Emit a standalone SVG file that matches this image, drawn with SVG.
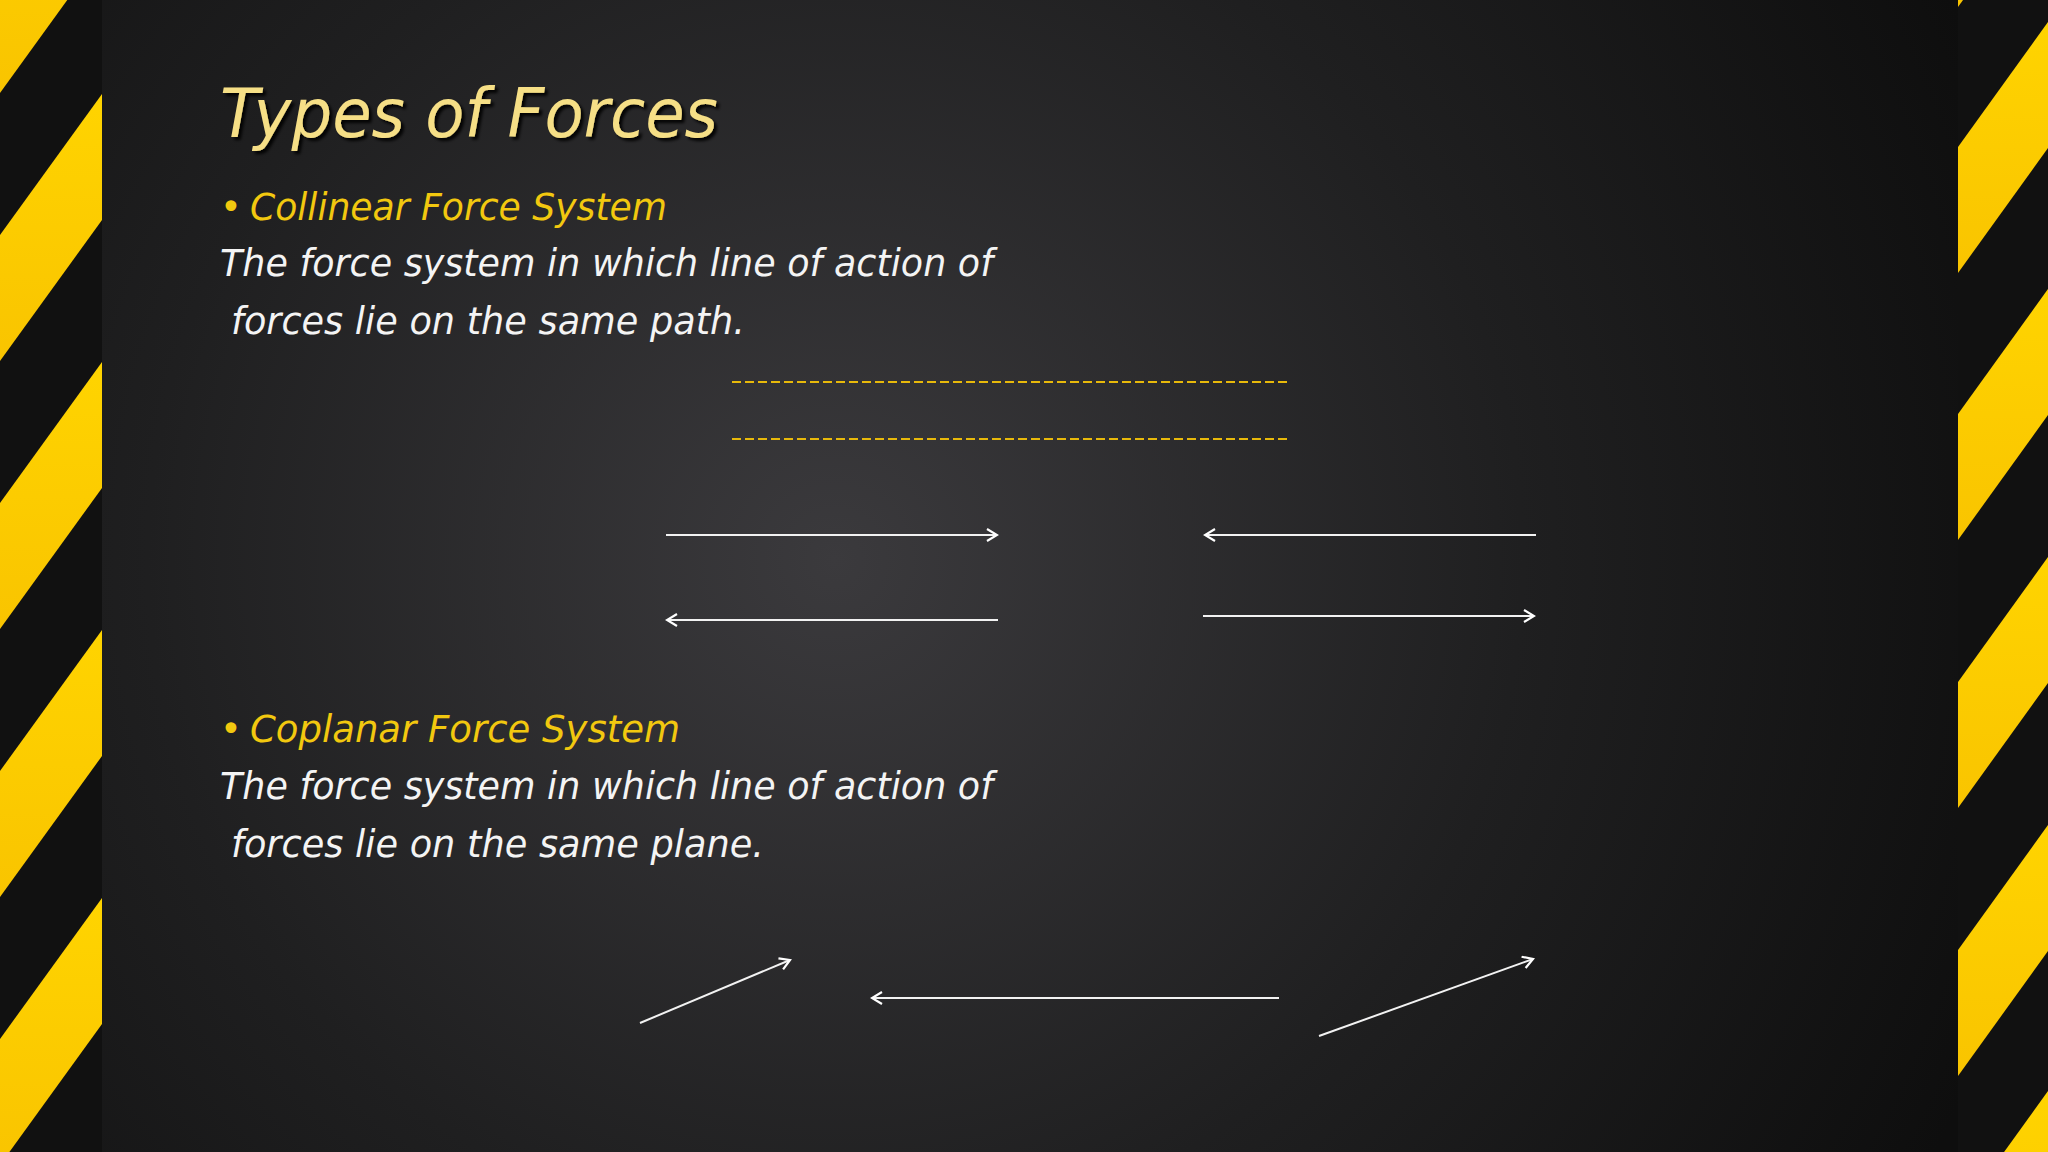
<svg xmlns="http://www.w3.org/2000/svg" width="2048" height="1152" viewBox="0 0 2048 1152">
<defs>
<radialGradient id="bg" cx="835" cy="560" r="1250" gradientUnits="userSpaceOnUse">
<stop offset="0" stop-color="#3b3a3d"/><stop offset="0.55" stop-color="#1f1f20"/><stop offset="1" stop-color="#0e0e0e"/>
</radialGradient>
<linearGradient id="yel" x1="0" y1="0" x2="0" y2="1"><stop offset="0" stop-color="#ffd400"/><stop offset="1" stop-color="#f9c400"/></linearGradient>
<filter id="sh"><feDropShadow dx="3" dy="3" stdDeviation="1.5" flood-color="#000" flood-opacity="0.9"/></filter>
<marker id="ah" viewBox="0 0 14 14" refX="12" refY="7" markerWidth="14" markerHeight="14" markerUnits="userSpaceOnUse" orient="auto">
<path d="M2,1 L12,7 L2,13" fill="none" stroke="#fff" stroke-width="2.2"/>
</marker>
<style>
.t{font-family:"DejaVu Sans",sans-serif;font-style:italic;}
.w{fill:#f4f4f4;font-size:37px;}
.g{fill:#f2c80f;font-size:37px;}
.a{stroke:#f2f2f2;stroke-width:2;fill:none;marker-end:url(#ah);}
.d{stroke:#e8b90a;stroke-width:2;stroke-dasharray:9 4;}
</style>
</defs>
<rect width="2048" height="1152" fill="url(#bg)"/>
<g id="left-stripes">
<rect x="0" y="0" width="102" height="1152" fill="#111"/>
<g fill="url(#yel)">
<polygon points="102,-174 102,-48 0,93 0,-33"/>
<polygon points="102,94 102,220 0,361 0,235"/>
<polygon points="102,362 102,488 0,629 0,503"/>
<polygon points="102,630 102,756 0,897 0,771"/>
<polygon points="102,898 102,1024 0,1165 0,1039"/>
</g>
</g>
<g id="right-stripes">
<rect x="1958" y="0" width="90" height="1152" fill="#111"/>
<g fill="url(#yel)">
<polygon points="1958,-119 1958,7 2048,-118 2048,-244"/>
<polygon points="1958,147 1958,273 2048,148 2048,22"/>
<polygon points="1958,414 1958,540 2048,415 2048,289"/>
<polygon points="1958,682 1958,808 2048,683 2048,557"/>
<polygon points="1958,950 1958,1076 2048,951 2048,825"/>
<polygon points="1958,1216 1958,1342 2048,1217 2048,1091"/>
</g>
</g>
<g id="title"><text class="t" x="220" y="137" font-size="68" fill="#f6df86" filter="url(#sh)" textLength="498" lengthAdjust="spacingAndGlyphs">Types of Forces</text></g>
<g id="collinear">
<text class="t g" x="220" y="220">•</text>
<text class="t g" x="250" y="220" textLength="417" lengthAdjust="spacingAndGlyphs">Collinear Force System</text>
<text class="t w" x="220" y="276" textLength="773" lengthAdjust="spacingAndGlyphs">The force system in which line of action of</text>
<text class="t w" x="231" y="334" textLength="514" lengthAdjust="spacingAndGlyphs">forces lie on the same path.</text>
</g>
<g id="coplanar">
<text class="t g" x="220" y="742">•</text>
<text class="t g" x="250" y="742" textLength="430" lengthAdjust="spacingAndGlyphs">Coplanar Force System</text>
<text class="t w" x="220" y="799" textLength="773" lengthAdjust="spacingAndGlyphs">The force system in which line of action of</text>
<text class="t w" x="231" y="857" textLength="533" lengthAdjust="spacingAndGlyphs">forces lie on the same plane.</text>
</g>
<g id="connectors">
<line class="d" x1="732" y1="382" x2="1290" y2="382"/>
<line class="d" x1="732" y1="439" x2="1290" y2="439"/>
<line class="a" x1="666" y1="535" x2="997" y2="535"/>
<line class="a" x1="1536" y1="535" x2="1205" y2="535"/>
<line class="a" x1="998" y1="620" x2="667" y2="620"/>
<line class="a" x1="1203" y1="616" x2="1534" y2="616"/>
<line class="a" x1="640" y1="1023" x2="790" y2="960"/>
<line class="a" x1="1279" y1="998" x2="872" y2="998"/>
<line class="a" x1="1319" y1="1036" x2="1533" y2="959"/>
</g>
</svg>
